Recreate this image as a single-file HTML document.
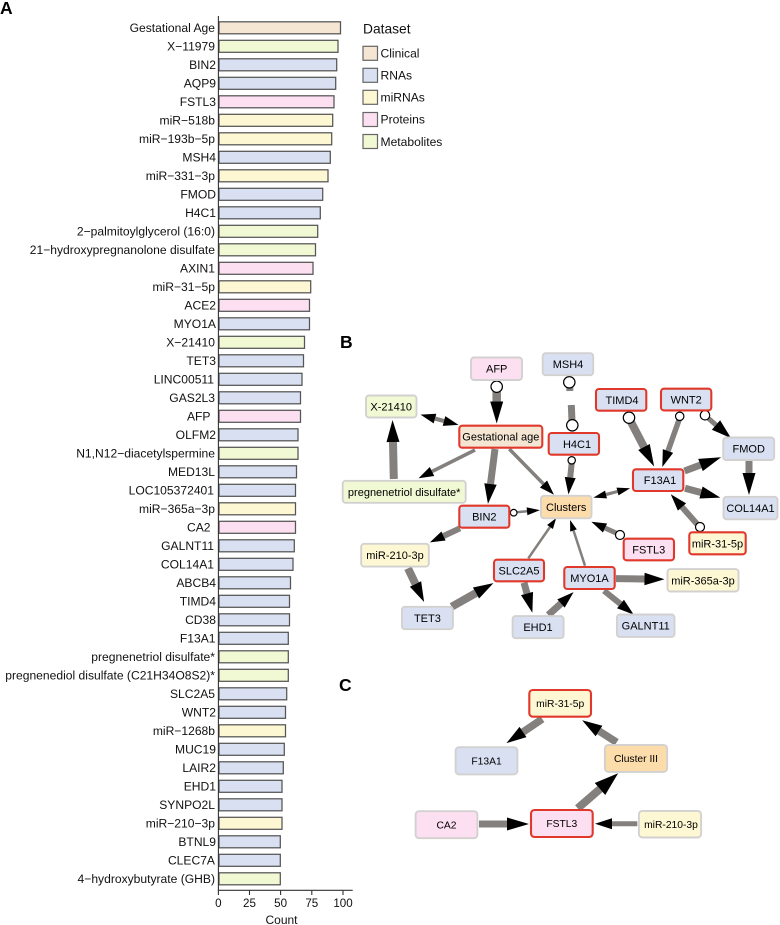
<!DOCTYPE html>
<html><head><meta charset="utf-8"><style>
html,body{margin:0;padding:0;background:#fff;width:780px;height:925px;overflow:hidden}
svg{display:block;filter:blur(.25px)}
text{font-family:"Liberation Sans",Arial,sans-serif;fill:#111}
.l{font-size:12.1px;text-anchor:end}
.t{font-size:11.6px;text-anchor:middle}
.n{font-size:11px;text-anchor:middle;fill:#000}
.k{font-size:10.3px;text-anchor:middle;fill:#000}
.h{font-size:17.5px;font-weight:bold;fill:#000}
.b rect{stroke:#555;stroke-width:1.25}
.c{fill:#f5e6d3}.r{fill:#d9e0f2}.m{fill:#fdf8d3}.p{fill:#fcdff0}.v{fill:#f1f8d4}.o{fill:#fddcac}
.g rect{stroke:#d3d1d0;stroke-width:1.9}
rect.x{stroke:#e0392b!important;stroke-width:2.1!important}
.e line{stroke:#84807e}
.e circle{fill:#fff;stroke:#000;stroke-width:1.2}
marker path{fill:#000}
</style></head><body>
<svg width="780" height="925" viewBox="0 0 780 925" xmlns="http://www.w3.org/2000/svg">
<defs>
<marker id="a" markerUnits="userSpaceOnUse" markerWidth="22" markerHeight="13" viewBox="0 0 22 13" refX="0" refY="6.5" orient="auto" overflow="visible"><path d="M0 0L22 6.5L0 13Z"/></marker>
<marker id="b" markerUnits="userSpaceOnUse" markerWidth="20" markerHeight="12.5" viewBox="0 0 20 12.5" refX="0" refY="6.25" orient="auto" overflow="visible"><path d="M0 0L20 6.25L0 12.5Z"/></marker>
<marker id="d" markerUnits="userSpaceOnUse" markerWidth="17" markerHeight="11" viewBox="0 0 17 11" refX="0" refY="5.5" orient="auto" overflow="visible"><path d="M0 0L17 5.5L0 11Z"/></marker>
<marker id="f" markerUnits="userSpaceOnUse" markerWidth="15" markerHeight="10" viewBox="0 0 15 10" refX="0" refY="5" orient="auto" overflow="visible"><path d="M0 0L15 5L0 10Z"/></marker>
<marker id="s" markerUnits="userSpaceOnUse" markerWidth="13" markerHeight="8" viewBox="0 0 13 8" refX="0" refY="4" orient="auto" overflow="visible"><path d="M0 0L13 4L0 8Z"/></marker>
<marker id="u" markerUnits="userSpaceOnUse" markerWidth="11" markerHeight="7" viewBox="0 0 11 7" refX="0" refY="3.5" orient="auto" overflow="visible"><path d="M0 0L11 3.5L0 7Z"/></marker>
<marker id="w" markerUnits="userSpaceOnUse" markerWidth="24" markerHeight="16" viewBox="0 0 24 16" refX="0" refY="8" orient="auto" overflow="visible"><path d="M0 0L24 8L0 16Z"/></marker>
</defs>

<text class="h" x="0" y="14">A</text>
<text class="h" x="340" y="348">B</text>
<text class="h" x="339" y="691">C</text>

<!-- Panel A bars -->
<g class="b">
<rect class="c" x="219" y="21.8" width="121.5" height="12"/>
<rect class="v" x="219" y="40.3" width="119" height="12"/>
<rect class="r" x="219" y="58.8" width="117.7" height="12"/>
<rect class="r" x="219" y="77.3" width="116.7" height="12"/>
<rect class="p" x="219" y="95.8" width="115" height="12"/>
<rect class="m" x="219" y="114.3" width="113.7" height="12"/>
<rect class="m" x="219" y="132.8" width="112.7" height="12"/>
<rect class="r" x="219" y="151.3" width="111.3" height="12"/>
<rect class="m" x="219" y="169.8" width="109" height="12"/>
<rect class="r" x="219" y="188.3" width="103.7" height="12"/>
<rect class="r" x="219" y="206.8" width="101.3" height="12"/>
<rect class="v" x="219" y="225.3" width="98.7" height="12"/>
<rect class="v" x="219" y="243.8" width="96.5" height="12"/>
<rect class="p" x="219" y="262.3" width="94" height="12"/>
<rect class="m" x="219" y="280.8" width="91.7" height="12"/>
<rect class="p" x="219" y="299.3" width="90.5" height="12"/>
<rect class="r" x="219" y="317.8" width="90.5" height="12"/>
<rect class="v" x="219" y="336.3" width="85.5" height="12"/>
<rect class="r" x="219" y="354.8" width="84.5" height="12"/>
<rect class="r" x="219" y="373.3" width="83" height="12"/>
<rect class="r" x="219" y="391.8" width="81.5" height="12"/>
<rect class="p" x="219" y="410.3" width="81.5" height="12"/>
<rect class="r" x="219" y="428.8" width="79" height="12"/>
<rect class="v" x="219" y="447.3" width="79" height="12"/>
<rect class="r" x="219" y="465.8" width="77.5" height="12"/>
<rect class="r" x="219" y="484.3" width="76.5" height="12"/>
<rect class="m" x="219" y="502.8" width="76.5" height="12"/>
<rect class="p" x="219" y="521.3" width="76.5" height="12"/>
<rect class="r" x="219" y="539.8" width="75.3" height="12"/>
<rect class="r" x="219" y="558.3" width="74" height="12"/>
<rect class="r" x="219" y="576.8" width="71.5" height="12"/>
<rect class="r" x="219" y="595.3" width="70.5" height="12"/>
<rect class="r" x="219" y="613.8" width="70.5" height="12"/>
<rect class="r" x="219" y="632.3" width="69.3" height="12"/>
<rect class="v" x="219" y="650.8" width="69.3" height="12"/>
<rect class="v" x="219" y="669.3" width="69.3" height="12"/>
<rect class="r" x="219" y="687.8" width="67.7" height="12"/>
<rect class="r" x="219" y="706.3" width="66.5" height="12"/>
<rect class="m" x="219" y="724.8" width="66.5" height="12"/>
<rect class="r" x="219" y="743.3" width="65.3" height="12"/>
<rect class="r" x="219" y="761.8" width="64.3" height="12"/>
<rect class="r" x="219" y="780.3" width="63" height="12"/>
<rect class="r" x="219" y="798.8" width="63" height="12"/>
<rect class="m" x="219" y="817.3" width="63" height="12"/>
<rect class="r" x="219" y="835.8" width="61.3" height="12"/>
<rect class="r" x="219" y="854.3" width="61.3" height="12"/>
<rect class="v" x="219" y="872.8" width="61.3" height="12"/>
</g>

<!-- Panel A labels -->
<g>
<text class="l" x="215" y="32">Gestational Age</text>
<text class="l" x="215" y="50.5">X−11979</text>
<text class="l" x="216" y="69">BIN2</text>
<text class="l" x="216" y="87.5">AQP9</text>
<text class="l" x="216" y="106">FSTL3</text>
<text class="l" x="215" y="124.5">miR−518b</text>
<text class="l" x="215" y="143">miR−193b−5p</text>
<text class="l" x="216" y="161.5">MSH4</text>
<text class="l" x="215" y="180">miR−331−3p</text>
<text class="l" x="216" y="198.5">FMOD</text>
<text class="l" x="216" y="217">H4C1</text>
<text class="l" x="215" y="235.5">2−palmitoylglycerol (16:0)</text>
<text class="l" x="215" y="254">21−hydroxypregnanolone disulfate</text>
<text class="l" x="215" y="272.5">AXIN1</text>
<text class="l" x="215" y="291">miR−31−5p</text>
<text class="l" x="216" y="309.5">ACE2</text>
<text class="l" x="216" y="328">MYO1A</text>
<text class="l" x="215" y="346.5">X−21410</text>
<text class="l" x="216" y="365">TET3</text>
<text class="l" x="214" y="383.5">LINC00511</text>
<text class="l" x="215" y="402">GAS2L3</text>
<text class="l" x="210.5" y="420.5">AFP</text>
<text class="l" x="216" y="439">OLFM2</text>
<text class="l" x="215" y="457.5">N1,N12−diacetylspermine</text>
<text class="l" x="215" y="476">MED13L</text>
<text class="l" x="214" y="494.5">LOC105372401</text>
<text class="l" x="215" y="513">miR−365a−3p</text>
<text class="l" x="210.5" y="531.5">CA2</text>
<text class="l" x="214" y="550">GALNT11</text>
<text class="l" x="214" y="568.5">COL14A1</text>
<text class="l" x="216" y="587">ABCB4</text>
<text class="l" x="216" y="605.5">TIMD4</text>
<text class="l" x="216" y="624">CD38</text>
<text class="l" x="215.5" y="642.5">F13A1</text>
<text class="l" x="215" y="661">pregnenetriol disulfate*</text>
<text class="l" x="215" y="679.5">pregnenediol disulfate (C21H34O8S2)*</text>
<text class="l" x="215" y="698">SLC2A5</text>
<text class="l" x="216" y="716.5">WNT2</text>
<text class="l" x="215" y="735">miR−1268b</text>
<text class="l" x="216" y="753.5">MUC19</text>
<text class="l" x="216" y="772">LAIR2</text>
<text class="l" x="216" y="790.5">EHD1</text>
<text class="l" x="215" y="809">SYNPO2L</text>
<text class="l" x="215" y="827.5">miR−210−3p</text>
<text class="l" x="216" y="846">BTNL9</text>
<text class="l" x="215" y="864.5">CLEC7A</text>
<text class="l" x="215" y="883">4−hydroxybutyrate (GHB)</text>
</g>

<!-- Axes -->
<g stroke="#333" stroke-width="1.1" fill="none">
<path d="M218.4 16V890.3H352.7"/>
<path d="M218.4 890V895M249.5 890V895M280.6 890V895M311.8 890V895M343 890V895"/>
</g>
<text class="t" x="218.4" y="907">0</text>
<text class="t" x="249.5" y="907">25</text>
<text class="t" x="280.6" y="907">50</text>
<text class="t" x="311.8" y="907">75</text>
<text class="t" x="343" y="907">100</text>
<text x="281.5" y="924" style="font-size:12px;text-anchor:middle">Count</text>

<!-- Legend -->
<text x="363" y="33.5" style="font-size:13.8px">Dataset</text>
<g stroke="#666" stroke-width="1.2">
<rect class="c" x="363" y="46.3" width="14.5" height="14"/>
<rect class="r" x="363" y="68.3" width="14.5" height="14"/>
<rect class="m" x="363" y="90.3" width="14.5" height="14"/>
<rect class="p" x="363" y="112.5" width="14.5" height="14"/>
<rect class="v" x="363" y="134.5" width="14.5" height="14"/>
</g>
<g>
<text x="380.5" y="57.5" style="font-size:12.1px">Clinical</text>
<text x="380.5" y="79.5" style="font-size:12.1px">RNAs</text>
<text x="380.5" y="101.5" style="font-size:12.1px">miRNAs</text>
<text x="380.5" y="123.7" style="font-size:12.1px">Proteins</text>
<text x="380.5" y="145.8" style="font-size:12.1px">Metabolites</text>
</g>

<!-- Panel B edges -->
<g class="e">
<line x1="496.7" y1="390" x2="496.7" y2="401.5" stroke-width="8.5" marker-end="url(#a)"/>
<circle cx="496.7" cy="386.7" r="5.7"/>
<line x1="443" y1="420.8" x2="435" y2="418.6" stroke-width="4" marker-end="url(#f)"/>
<line x1="435" y1="418.6" x2="444" y2="421" stroke-width="4" marker-end="url(#f)"/>
<line x1="393.8" y1="479" x2="393" y2="442" stroke-width="8" marker-end="url(#a)"/>
<line x1="475" y1="450" x2="432" y2="471.5" stroke-width="3.5" marker-end="url(#f)"/>
<line x1="495" y1="449" x2="490.5" y2="484" stroke-width="7" marker-end="url(#b)"/>
<line x1="509.3" y1="449" x2="543.5" y2="484" stroke-width="3.5" marker-end="url(#f)"/>
<line x1="516.5" y1="512.3" x2="527" y2="511.3" stroke-width="2.5" marker-end="url(#s)"/>
<circle cx="513.7" cy="512.7" r="3.3"/>
<line x1="569.7" y1="386" x2="569.9" y2="391" stroke-width="7"/>
<circle cx="569.3" cy="382.3" r="5.7"/>
<line x1="571.3" y1="405" x2="572" y2="421" stroke-width="7"/>
<circle cx="572.3" cy="425.3" r="5.7"/>
<line x1="571.7" y1="463" x2="570.2" y2="477.5" stroke-width="6" marker-end="url(#d)"/>
<circle cx="571.7" cy="460.3" r="3.7"/>
<line x1="631" y1="422" x2="644" y2="447" stroke-width="8" marker-end="url(#a)"/>
<circle cx="629" cy="417.7" r="5.7"/>
<line x1="679" y1="420" x2="668" y2="451" stroke-width="5.5" marker-end="url(#d)"/>
<circle cx="679.7" cy="416.3" r="4.2"/>
<line x1="708" y1="418" x2="716" y2="425" stroke-width="5" marker-end="url(#b)"/>
<circle cx="705" cy="415.3" r="4.7"/>
<line x1="684.5" y1="471" x2="700.5" y2="465" stroke-width="7" marker-end="url(#a)"/>
<line x1="685" y1="488.3" x2="701" y2="492.5" stroke-width="7" marker-end="url(#b)"/>
<line x1="749" y1="460.7" x2="749" y2="473" stroke-width="7" marker-end="url(#a)"/>
<line x1="697" y1="524" x2="682" y2="507" stroke-width="6" marker-end="url(#d)"/>
<circle cx="700" cy="527" r="4.5"/>
<line x1="612" y1="493" x2="606" y2="494.5" stroke-width="3" marker-end="url(#s)"/>
<line x1="606" y1="494.5" x2="617.5" y2="491.5" stroke-width="3" marker-end="url(#s)"/>
<line x1="616" y1="533" x2="605" y2="528" stroke-width="5" marker-end="url(#f)"/>
<circle cx="620" cy="535" r="4.5"/>
<line x1="460" y1="528.3" x2="443.5" y2="536" stroke-width="6" marker-end="url(#f)"/>
<line x1="408" y1="568.3" x2="415.5" y2="584" stroke-width="8" marker-end="url(#b)"/>
<line x1="451.7" y1="606.7" x2="476" y2="593" stroke-width="8" marker-end="url(#b)"/>
<line x1="524" y1="582.7" x2="527" y2="593.5" stroke-width="7" marker-end="url(#b)"/>
<line x1="548.3" y1="615" x2="561" y2="603.5" stroke-width="7" marker-end="url(#d)"/>
<line x1="604" y1="590.7" x2="620.5" y2="604" stroke-width="6" marker-end="url(#d)"/>
<line x1="616" y1="578.6" x2="644.5" y2="579" stroke-width="7" marker-end="url(#b)"/>
<line x1="528.3" y1="558.3" x2="550" y2="527" stroke-width="2.5" marker-end="url(#u)"/>
<line x1="585" y1="565.7" x2="573.5" y2="530.5" stroke-width="2.5" marker-end="url(#u)"/>
</g>

<!-- Panel B nodes -->
<g class="g">
<rect class="p" x="471" y="357.5" width="51" height="22.5" rx="3"/>
<rect class="v" x="366" y="395.5" width="50.5" height="22" rx="3"/>
<rect class="c x" x="459.3" y="425.7" width="83" height="22" rx="3"/>
<rect class="v" x="342.7" y="480.8" width="123" height="22" rx="3"/>
<rect class="r x" x="459.3" y="505.7" width="50" height="22" rx="3"/>
<rect class="o" x="541" y="495.8" width="50.5" height="22.5" rx="3"/>
<rect class="r" x="542.7" y="353.2" width="50.5" height="22" rx="3"/>
<rect class="r x" x="548.7" y="433" width="50.3" height="21.7" rx="3"/>
<rect class="r x" x="596" y="389" width="50.3" height="21.7" rx="3"/>
<rect class="r x" x="661" y="388.7" width="50.3" height="21.7" rx="3"/>
<rect class="r" x="723.2" y="437.5" width="51" height="22.5" rx="3"/>
<rect class="r x" x="633" y="469.3" width="50.3" height="21.7" rx="3"/>
<rect class="r" x="723.5" y="496.8" width="54" height="22.5" rx="3"/>
<rect class="m x" x="689.3" y="532.3" width="56.4" height="22" rx="3"/>
<rect class="p x" x="623.7" y="538.7" width="50.3" height="21.6" rx="3"/>
<rect class="m" x="361.2" y="543.8" width="67.6" height="22.8" rx="3"/>
<rect class="r x" x="494" y="559.7" width="50" height="21.6" rx="3"/>
<rect class="r x" x="564.3" y="567" width="50.4" height="22" rx="3"/>
<rect class="m" x="667.5" y="569.1" width="71" height="22.4" rx="3"/>
<rect class="r" x="401.9" y="606.8" width="51" height="22.4" rx="3"/>
<rect class="r" x="512.6" y="616.1" width="51" height="22.1" rx="3"/>
<rect class="r" x="616.9" y="614.5" width="57.6" height="22.4" rx="3"/>
</g>
<text class="n" x="496.7" y="372.7">AFP</text>
<text class="n" x="391.2" y="410.5">X-21410</text>
<text class="n" x="500.8" y="440.7">Gestational age</text>
<text class="n" x="404.2" y="495.8">pregnenetriol disulfate*</text>
<text class="n" x="484.3" y="520.7">BIN2</text>
<text class="n" x="566.2" y="511">Clusters</text>
<text class="n" x="568" y="368.2">MSH4</text>
<text class="n" x="577" y="448">H4C1</text>
<text class="n" x="622" y="404">TIMD4</text>
<text class="n" x="686.2" y="403.5">WNT2</text>
<text class="n" x="748.7" y="452.7">FMOD</text>
<text class="n" x="660" y="484.2">F13A1</text>
<text class="n" x="750.5" y="512">COL14A1</text>
<text class="n" x="717.5" y="547.3">miR-31-5p</text>
<text class="n" x="648.8" y="553.5">FSTL3</text>
<text class="n" x="395" y="559.2">miR-210-3p</text>
<text class="n" x="519" y="574.5">SLC2A5</text>
<text class="n" x="589.5" y="582">MYO1A</text>
<text class="n" x="703" y="584.3">miR-365a-3p</text>
<text class="n" x="427.4" y="622">TET3</text>
<text class="n" x="538" y="631.2">EHD1</text>
<text class="n" x="645.7" y="629.7">GALNT11</text>

<!-- Panel C edges -->
<g class="e">
<line x1="542.3" y1="719" x2="523" y2="732" stroke-width="7.5" marker-end="url(#b)"/>
<line x1="616.7" y1="742.3" x2="599" y2="731" stroke-width="7.5" marker-end="url(#b)"/>
<line x1="577.7" y1="808.3" x2="600" y2="789" stroke-width="8" marker-end="url(#w)"/>
<line x1="479" y1="824" x2="507" y2="824" stroke-width="7" marker-end="url(#a)"/>
<line x1="637.3" y1="823.7" x2="612" y2="823.7" stroke-width="5" marker-end="url(#d)"/>
</g>

<!-- Panel C nodes -->
<g class="g">
<rect class="m x" x="529.3" y="690" width="61.7" height="26.7" rx="3.5"/>
<rect class="r" x="455.6" y="747.2" width="61.8" height="27.2" rx="3.5"/>
<rect class="o" x="604.9" y="744.9" width="62.2" height="27" rx="3.5"/>
<rect class="p" x="415.6" y="811.2" width="61.8" height="27" rx="3.5"/>
<rect class="p x" x="531" y="810" width="61.7" height="27" rx="3.5"/>
<rect class="m" x="638.9" y="810.9" width="62.2" height="26.6" rx="3.5"/>
</g>
<text class="k" x="560.2" y="707">miR-31-5p</text>
<text class="k" x="486.5" y="764.3">F13A1</text>
<text class="k" x="636" y="762">Cluster III</text>
<text class="k" x="446.5" y="828.3">CA2</text>
<text class="k" x="561.8" y="827">FSTL3</text>
<text class="k" x="671" y="828">miR-210-3p</text>
</svg>
</body></html>
